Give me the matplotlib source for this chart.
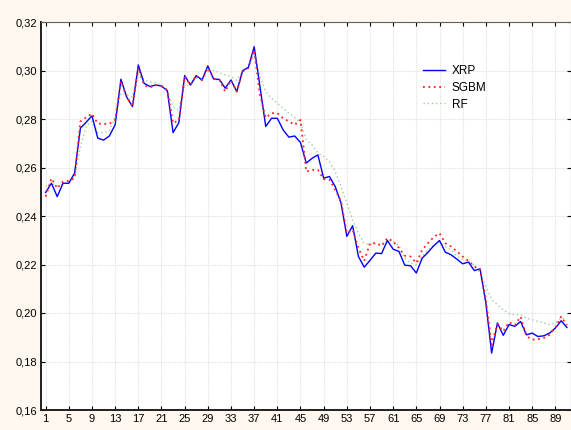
import matplotlib
matplotlib.use("Agg")
import matplotlib.pyplot as plt
from matplotlib.ticker import FuncFormatter

x_start = 1
xrp = [0.2497, 0.2535, 0.2480, 0.2535, 0.2535, 0.2577, 0.2762, 0.2787, 0.2813, 0.2721,
       0.2713, 0.2730, 0.2776, 0.2964, 0.2890, 0.2851, 0.3023, 0.2947, 0.2934, 0.2940,
       0.2936, 0.2917, 0.2744, 0.2785, 0.2979, 0.2940, 0.2979, 0.2961, 0.3019, 0.2965,
       0.2963, 0.2927, 0.2961, 0.2913, 0.2999, 0.3013, 0.3098, 0.2934, 0.2769, 0.2803,
       0.2803, 0.2755, 0.2725, 0.2730, 0.2703, 0.2618, 0.2638, 0.2652, 0.2556, 0.2563,
       0.2521, 0.2453, 0.2316, 0.2360, 0.2233, 0.2189, 0.2217, 0.2247, 0.2245, 0.2299,
       0.2263, 0.2254, 0.2197, 0.2195, 0.2165, 0.2226, 0.2250, 0.2277, 0.2299, 0.2251,
       0.2240, 0.2222, 0.2203, 0.2210, 0.2175, 0.2182, 0.2041, 0.1835, 0.1959, 0.1908,
       0.1952, 0.1945, 0.1965, 0.1910, 0.1917, 0.1903, 0.1906, 0.1917, 0.1938, 0.1968,
       0.1940]
sgbm = [0.2480, 0.2555, 0.2514, 0.2542, 0.2545, 0.2556, 0.2790, 0.2807, 0.2822, 0.2781,
        0.2780, 0.2780, 0.2796, 0.2955, 0.2890, 0.2855, 0.3010, 0.2940, 0.2930, 0.2940,
        0.2935, 0.2920, 0.2783, 0.2796, 0.2975, 0.2940, 0.2978, 0.2960, 0.3010, 0.2965,
        0.2962, 0.2913, 0.2960, 0.2913, 0.2995, 0.3010, 0.3085, 0.2900, 0.2805, 0.2824,
        0.2824, 0.2803, 0.2790, 0.2776, 0.2796, 0.2583, 0.2590, 0.2590, 0.2552, 0.2550,
        0.2508, 0.2460, 0.2329, 0.2343, 0.2268, 0.2215, 0.2288, 0.2288, 0.2277, 0.2309,
        0.2295, 0.2268, 0.2236, 0.2233, 0.2206, 0.2260, 0.2288, 0.2313, 0.2329, 0.2288,
        0.2274, 0.2254, 0.2233, 0.2215, 0.2192, 0.2180, 0.2055, 0.1870, 0.1955, 0.1925,
        0.1962, 0.1950, 0.1985, 0.1905, 0.1890, 0.1892, 0.1897, 0.1910, 0.1940, 0.1985,
        0.1950]
rf = [0.2522, 0.2535, 0.2525, 0.2530, 0.2540, 0.2560, 0.2686, 0.2769, 0.2790, 0.2744,
      0.2744, 0.2752, 0.2810, 0.2906, 0.2900, 0.2890, 0.2989, 0.2960, 0.2955, 0.2950,
      0.2940, 0.2915, 0.2850, 0.2837, 0.2937, 0.2940, 0.2970, 0.2960, 0.3009, 0.3000,
      0.2991, 0.2982, 0.2975, 0.2960, 0.2995, 0.3016, 0.3071, 0.2975, 0.2913, 0.2885,
      0.2865, 0.2844, 0.2824, 0.2807, 0.2783, 0.2714, 0.2693, 0.2659, 0.2645, 0.2624,
      0.2583, 0.2521, 0.2453, 0.2384, 0.2329, 0.2285, 0.2283, 0.2285, 0.2280, 0.2300,
      0.2295, 0.2278, 0.2226, 0.2205, 0.2200, 0.2235, 0.2260, 0.2280, 0.2295, 0.2274,
      0.2260, 0.2235, 0.2220, 0.2215, 0.2195, 0.2165, 0.2110, 0.2055, 0.2034, 0.2013,
      0.1997, 0.1993, 0.1993, 0.1979, 0.1972, 0.1965, 0.1959, 0.1952, 0.1958, 0.1979,
      0.1975]
x_ticks = list(range(1, 90, 4))
y_ticks = [0.16, 0.18, 0.20, 0.22, 0.24, 0.26, 0.28, 0.30, 0.32]

xs = list(range(x_start, x_start + len(xrp)))

plt.rcParams['font.family'] = ['Liberation Sans', 'DejaVu Sans']

fig = plt.figure(figsize=(5.71, 4.30), dpi=100, facecolor='#FEF8EE')
ax = fig.add_axes([41/571, 20/430, 1 - 41/571, 388/430])
ax.set_facecolor('white')

ax.plot(xs, rf, color='#9CD29C', linestyle=(0, (1, 2)), linewidth=1.0, label='RF', zorder=2)
ax.plot(xs, xrp, color='#0000FF', linestyle='-', linewidth=1.0, label='XRP', zorder=3)
ax.plot(xs, sgbm, color='#FF2020', linestyle=(0, (1, 2)), linewidth=1.3, label='SGBM', zorder=4)

ax.set_xlim(0.2, 91.7)
ax.set_ylim(0.16, 0.32)
ax.set_xticks(x_ticks)
ax.set_yticks(y_ticks)
ax.yaxis.set_major_formatter(FuncFormatter(lambda v, p: f"{v:.2f}".replace('.', ',')))
ax.tick_params(axis='both', which='major', direction='in', length=3, width=0.8,
               labelsize=8, top=True, right=True, pad=3)
ax.grid(True, color='#E0E0E0', linestyle=(0, (1, 1)), linewidth=0.8)
ax.set_axisbelow(True)
for s in ['left', 'bottom']:
    ax.spines[s].set_color('#202020')
    ax.spines[s].set_linewidth(1.4)
for s in ['top', 'right']:
    ax.spines[s].set_color('#606060')
    ax.spines[s].set_linewidth(0.8)

h, l = ax.get_legend_handles_labels()
order = [l.index('XRP'), l.index('SGBM'), l.index('RF')]
ax.legend([h[i] for i in order], [l[i] for i in order], loc='upper left',
          bbox_to_anchor=(0.705, 0.91), frameon=False, fontsize=8.5,
          handlelength=1.9, handletextpad=0.55, labelspacing=0.4, borderpad=0.2)

fig.savefig('out.png', dpi=100, facecolor=fig.get_facecolor())
